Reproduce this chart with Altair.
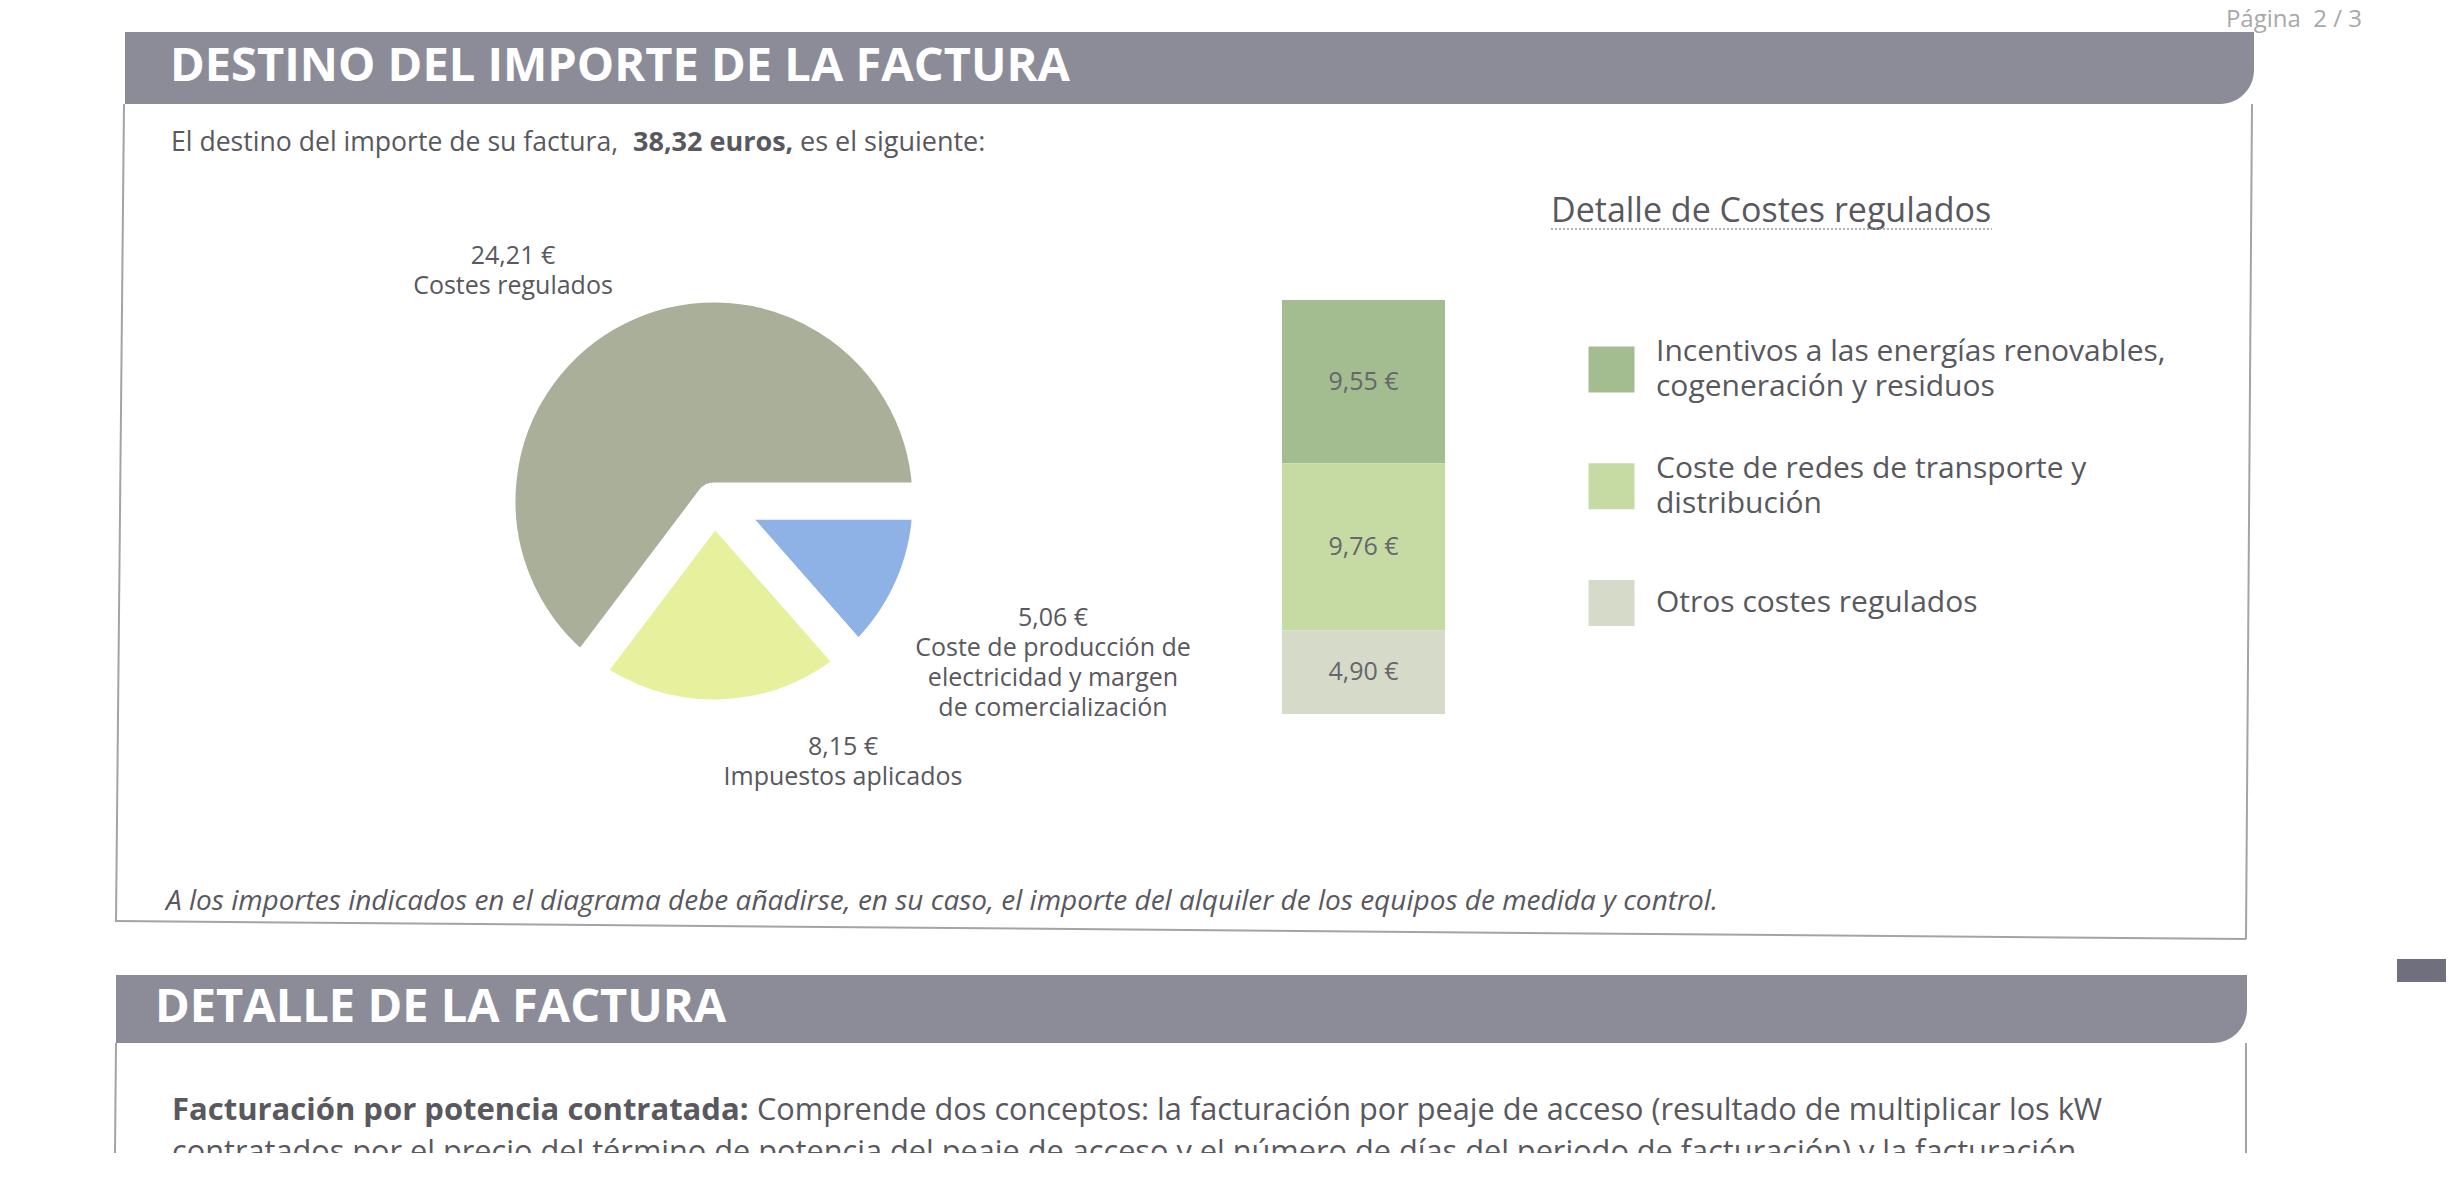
import math
import altair as alt
import pandas as pd

# ---------------- data ----------------
TOTAL_FACTURA = "38,32 euros,"

pie_keys = ["produccion", "impuestos", "regulados"]
pie_names = [
    "Coste de producción de|electricidad y margen|de comercialización",
    "Impuestos aplicados",
    "Costes regulados",
]
pie_values = [5.06, 8.15, 24.21]

reg_keys = ["incentivos", "redes", "otros"]
reg_names = [
    "Incentivos a las energías renovables,|cogeneración y residuos",
    "Coste de redes de transporte y|distribución",
    "Otros costes regulados",
]
reg_values = [9.55, 9.76, 4.90]

# ---------------- styles ----------------
PIE_COLORS = ["#8eb1e6", "#e7f09d", "#aaaf9a"]
REG_COLORS = ["#a3bd91", "#c5dba3", "#d6dbc9"]
BAND = "#8c8c99"
TXT = "#58585e"
LINE = "#a4a4a8"
FONT = "Open Sans"

pie_df = pd.DataFrame({"key": pie_keys, "name": pie_names, "value": pie_values,
                       "order": list(range(len(pie_keys)))})
reg_df = pd.DataFrame({"key": reg_keys, "name": reg_names, "value": reg_values,
                       "stack_order": [2, 1, 0]})
reg_total = float(sum(reg_values))

one = pd.DataFrame({"a": [0]})

EURO = "replace(format(datum.value, '.2f'), '.', ',') + ' €'"


def text_at(txt, x, y, size, color=TXT, weight="normal", style="normal", align="left"):
    return alt.Chart(one).mark_text(
        text=txt, font=FONT, fontSize=size, fontWeight=weight, fontStyle=style,
        color=color, align=align, baseline="alphabetic"
    ).encode(x=alt.value(x), y=alt.value(y))


def rule(x1, y1, x2, y2, color=LINE, width=2, dash=None):
    kw = dict(color=color, strokeWidth=width)
    if dash:
        kw["strokeDash"] = dash
    return alt.Chart(one).mark_rule(**kw).encode(
        x=alt.value(x1), y=alt.value(y1), x2=alt.value(x2), y2=alt.value(y2))


def rect(x1, y1, x2, y2, color, **kw):
    return alt.Chart(one).mark_rect(color=color, **kw).encode(
        x=alt.value(x1), y=alt.value(y1), x2=alt.value(x2), y2=alt.value(y2))


layers = []

# page number
layers.append(text_at("Página\u00a0\u00a02\u00a0/\u00a03", 2354, 19, 24, color="#a8a8ab", align="right"))

# header band 1
layers.append(rect(117, 24, 2246, 96, BAND, cornerRadiusBottomRight=34))
layers.append(text_at("DESTINO DEL IMPORTE DE LA FACTURA", 162, 73, 47, color="white", weight="bold"))

# box borders
layers.append(rule(116, 96, 108, 914))
layers.append(rule(2244, 96, 2238, 931))
layers.append(rule(108, 913, 2238, 931))

# intro sentence
layers.append(text_at("El destino del importe de su factura,", 163, 143, 26.6))
layers.append(text_at(TOTAL_FACTURA, 625, 143, 27, weight="bold"))
layers.append(text_at("es el siguiente:", 792, 143, 27))

# pie
pie = alt.Chart(pie_df).mark_arc(
    outerRadius=217, stroke="white", strokeWidth=37, strokeJoin="round"
).encode(
    theta=alt.Theta("value:Q", stack=True,
                    scale=alt.Scale(range=[math.pi / 2, math.pi / 2 + 2 * math.pi])),
    color=alt.Color("key:N", scale=alt.Scale(domain=pie_keys, range=PIE_COLORS), legend=None),
    order=alt.Order("order:Q"),
    x=alt.value(706),
    y=alt.value(493),
)
layers.append(pie)


def pie_label(key, x, y):
    # y is the position of the first line
    return alt.Chart(pie_df).transform_filter(
        alt.datum.key == key
    ).transform_calculate(
        lbl="split(" + EURO + " + '|' + datum.name, '|')"
    ).mark_text(
        font=FONT, fontSize=25, color=TXT, lineHeight=30, align="center", baseline="middle"
    ).encode(text="lbl:N", x=alt.value(x), y=alt.value(y))


layers.append(pie_label("regulados", 505, 248))
layers.append(pie_label("produccion", 1045, 610))
layers.append(pie_label("impuestos", 835, 739))

# stacked bar of regulated costs
bar_y = alt.Scale(domain=[0, reg_total], range=[706, 292])
bar_base = alt.Chart(reg_df).transform_stack(
    stack="value", groupby=[], as_=["v0", "v1"],
    sort=[alt.SortField("stack_order", order="ascending")]
)
bar = bar_base.mark_rect().encode(
    x=alt.value(1274), x2=alt.value(1437),
    y=alt.Y("v0:Q", scale=bar_y, axis=None), y2="v1:Q",
    color=alt.Color("key:N", scale=alt.Scale(domain=reg_keys, range=REG_COLORS), legend=None),
)
bar_txt = bar_base.transform_calculate(
    mid="(datum.v0 + datum.v1) / 2", lbl=EURO
).mark_text(font=FONT, fontSize=25, color="#66666b", align="center", baseline="middle").encode(
    x=alt.value(1355.5),
    y=alt.Y("mid:Q", scale=bar_y, axis=None),
    text="lbl:N",
)
layers += [bar, bar_txt]

# detail title
layers.append(text_at("Detalle de Costes regulados", 1543, 214, 34))
layers.append(rule(1543, 221, 1984, 221, color="#9a9a9e", width=1.5, dash=[2, 2]))

# custom legend
leg_y = alt.Scale(domain=reg_keys, range=[361.5, 595], padding=0)
leg_sq = alt.Chart(reg_df).mark_square(size=2116, opacity=1).encode(
    x=alt.value(1603.5),
    y=alt.Y("key:N", scale=leg_y, axis=None),
    color=alt.Color("key:N", scale=alt.Scale(domain=reg_keys, range=REG_COLORS), legend=None),
)
layers.append(leg_sq)

LEG_LH = 35
for nlines in (1, 2):
    layers.append(
        alt.Chart(reg_df).transform_calculate(
            lbl="split(datum.name, '|')"
        ).transform_filter(
            f"length(datum.lbl) == {nlines}"
        ).mark_text(
            font=FONT, fontSize=30, color=TXT, lineHeight=LEG_LH, align="left",
            baseline="middle", dy=-(nlines - 1) * LEG_LH / 2
        ).encode(
            x=alt.value(1648),
            y=alt.Y("key:N", scale=leg_y, axis=None),
            text="lbl:N",
        )
    )

# note
layers.append(text_at(
    "A los importes indicados en el diagrama debe añadirse, en su caso, el importe del alquiler de los equipos de medida y control.",
    158, 902, 28, style="italic"))

# header band 2
layers.append(rect(108, 967, 2239, 1035, BAND, cornerRadiusBottomRight=34))
layers.append(text_at("DETALLE DE LA FACTURA", 147, 1014, 47, color="white", weight="bold"))
layers.append(rule(108, 1035, 107, 1145))
layers.append(rule(2238, 1035, 2238, 1145))

# small marker at the right
layers.append(rect(2389, 951, 2438, 974, "#6f6f7d"))

# paragraph
layers.append(text_at("Facturación por potencia contratada:", 164, 1112, 31, weight="bold"))
layers.append(text_at(
    "Comprende dos conceptos: la facturación por peaje de acceso (resultado de multiplicar los kW",
    749, 1112, 30.7))
layers.append(text_at(
    "contratados por el precio del término de potencia del peaje de acceso y el número de días del periodo de facturación) y la facturación",
    164, 1154, 30.7))

chart = alt.layer(*layers).resolve_scale(
    y="independent", color="independent", theta="independent"
).properties(
    width=2444, height=1145, padding=0,
    autosize=alt.AutoSizeParams(type="none"),
    background="white",
).configure_view(stroke=None)

chart.save("out.html", embed_options={"renderer": "svg", "actions": False})
